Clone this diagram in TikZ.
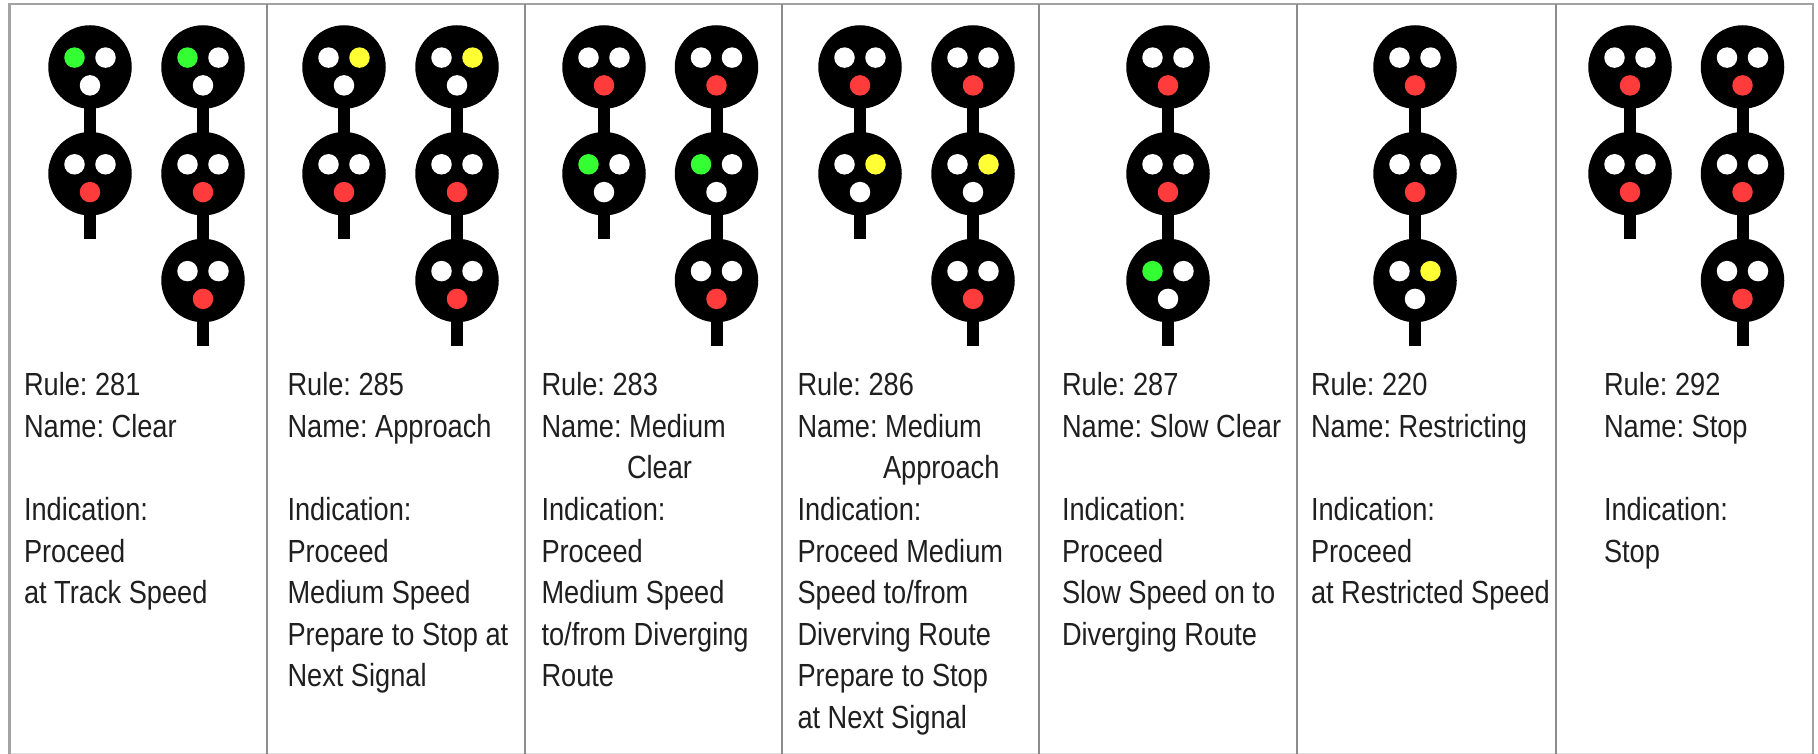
\documentclass[tikz,border=0pt]{standalone}
\usepackage{fontspec}
\setmainfont[FakeStretch=0.85]{Liberation Sans}
\frenchspacing
\definecolor{gridc}{HTML}{8C8C8C}
\definecolor{lampg}{HTML}{33FF33}
\definecolor{lampy}{HTML}{FFFF33}
\definecolor{lampr}{HTML}{FF3B3B}
\tikzset{
  head/.style={circle,fill=black,draw=none,minimum size=83.5pt,inner sep=0pt},
  lamp/.style={circle,fill=#1,draw=none,minimum size=20.5pt,inner sep=0pt},
  stem/.style={line width=12pt,black},
  grid/.style={line width=1.8pt,gridc},
  txt/.style={anchor=north west,inner sep=0pt,outer sep=0pt,align=left,text=black!88,
    font=\fontsize{32}{41.6}\selectfont\frenchspacing}
}
% head name, x, y, left, right, bottom
\newcommand{\sighead}[6]{%
  \node[head] (#1) at (#2,#3) {};
  \node[lamp=#4] (#1l) at (#2-15.5,#3-9.4) {};
  \node[lamp=#5] (#1r) at (#2+15.5,#3-9.4) {};
  \node[lamp=#6] (#1b) at (#2,#3+18.4) {};
}
\begin{document}
\begin{tikzpicture}[x=1pt,y=-1pt]
\useasboundingbox (0,0) rectangle (1818,754);
\fill[white] (0,0) rectangle (1818,754);
% table
\coordinate (tl) at (9.5,4);
\coordinate (tr) at (1813,4);
\coordinate (bl) at (9.5,753.5);
\coordinate (br) at (1813,753.5);
\draw[line width=1pt,gridc!30] (bl) -- (br);
\draw[grid,line width=2.4pt,gridc!80] (bl) -- (tl) -- (tr) -- (br);
\foreach \i/\x in {1/267,2/524.7,3/782,4/1039,5/1297,6/1556}{
  \coordinate (u\i) at (\x,4);
  \coordinate (d\i) at (\x,754);
  \draw[grid] (u\i) -- (d\i);
}
% masts
\foreach \n/\x/\e in {m1/90/239,m2/203/346,m3/344/239,m4/457/346,m5/604/239,m6/716.5/346,m7/860/239,m8/973/346,m9/1168/346,m10/1415/346,m11/1630/239,m12/1742.5/346}{
  \coordinate (\n top) at (\x,66.7);
  \coordinate (\n end) at (\x,\e);
  \draw[stem] (\n top) -- (\n end);
}
% rule 281
\sighead{a1}{90}{67}{lampg}{white}{white}
\sighead{a2}{90}{173.7}{white}{white}{lampr}
\sighead{b1}{203}{67}{lampg}{white}{white}
\sighead{b2}{203}{173.7}{white}{white}{lampr}
\sighead{b3}{203}{280.5}{white}{white}{lampr}
% rule 285
\sighead{c1}{344}{67}{white}{lampy}{white}
\sighead{c2}{344}{173.7}{white}{white}{lampr}
\sighead{d1}{457}{67}{white}{lampy}{white}
\sighead{d2}{457}{173.7}{white}{white}{lampr}
\sighead{d3}{457}{280.5}{white}{white}{lampr}
% rule 283
\sighead{e1}{604}{67}{white}{white}{lampr}
\sighead{e2}{604}{173.7}{lampg}{white}{white}
\sighead{f1}{716.5}{67}{white}{white}{lampr}
\sighead{f2}{716.5}{173.7}{lampg}{white}{white}
\sighead{f3}{716.5}{280.5}{white}{white}{lampr}
% rule 286
\sighead{g1}{860}{67}{white}{white}{lampr}
\sighead{g2}{860}{173.7}{white}{lampy}{white}
\sighead{h1}{973}{67}{white}{white}{lampr}
\sighead{h2}{973}{173.7}{white}{lampy}{white}
\sighead{h3}{973}{280.5}{white}{white}{lampr}
% rule 287
\sighead{i1}{1168}{67}{white}{white}{lampr}
\sighead{i2}{1168}{173.7}{white}{white}{lampr}
\sighead{i3}{1168}{280.5}{lampg}{white}{white}
% rule 220
\sighead{j1}{1415}{67}{white}{white}{lampr}
\sighead{j2}{1415}{173.7}{white}{white}{lampr}
\sighead{j3}{1415}{280.5}{white}{lampy}{white}
% rule 292
\sighead{k1}{1630}{67}{white}{white}{lampr}
\sighead{k2}{1630}{173.7}{white}{white}{lampr}
\sighead{l1}{1742.5}{67}{white}{white}{lampr}
\sighead{l2}{1742.5}{173.7}{white}{white}{lampr}
\sighead{l3}{1742.5}{280.5}{white}{white}{lampr}
% texts
\node[txt] (t281) at (24,372.5) {Rule: 281\\Name: Clear\\\mbox{}\\Indication:\\Proceed\\at Track Speed};
\node[txt] (t285) at (287.5,372.5) {Rule: 285\\Name: Approach\\\mbox{}\\Indication:\\Proceed\\Medium Speed\\Prepare to Stop at\\Next Signal};
\node[txt] (t283) at (541.5,372.5) {Rule: 283\\Name: Medium\\\hspace{85.5pt}Clear\\Indication:\\Proceed\\Medium Speed\\to/from Diverging\\Route};
\node[txt] (t286) at (797.5,372.5) {Rule: 286\\Name: Medium\\\hspace{85.5pt}Approach\\Indication:\\Proceed Medium\\Speed to/from\\Diverving Route\\Prepare to Stop\\at Next Signal};
\node[txt] (t287) at (1062,372.5) {Rule: 287\\Name: Slow Clear\\\mbox{}\\Indication:\\Proceed\\Slow Speed on to\\Diverging Route};
\node[txt] (t220) at (1311,372.5) {Rule: 220\\Name: Restricting\\\mbox{}\\Indication:\\Proceed\\at Restricted Speed};
\node[txt] (t292) at (1604,372.5) {Rule: 292\\Name: Stop\\\mbox{}\\Indication:\\Stop};
\end{tikzpicture}
\end{document}
